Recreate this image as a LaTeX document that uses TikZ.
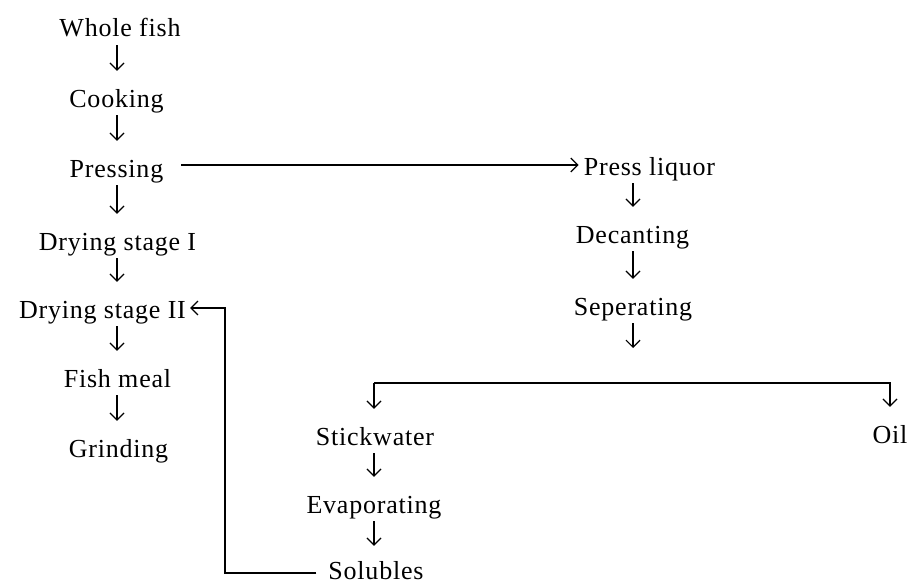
\documentclass[tikz,border=0pt]{standalone}
\usepackage{fontspec}
\setmainfont{Liberation Serif}[LetterSpace=3]
\usetikzlibrary{arrows.meta}
\begin{document}
\begin{tikzpicture}[x=1pt,y=-1pt,
  lbl/.style={anchor=base, inner sep=0pt, text height=18pt, text depth=6pt,
    font=\fontsize{26}{30}\selectfont},
  conn/.style={line width=1.2pt},
  arr/.style={conn, -{Straight Barb[length=7pt,width=14pt,line width=1.2pt]}},
  downarr/.style={arr, shorten <=2pt, shorten >=18pt}]
\useasboundingbox (0,0) rectangle (909,583);
\fill[white] (0,0) rectangle (909,583);
% column coordinates
\coordinate (L) at (117,0);
\coordinate (R) at (633,0);
\coordinate (S) at (374,0);
% left column
\node[lbl] (whole) at (120,37) {Whole fish};
\node[lbl] (cook)  at (116.5,107) {Cooking};
\node[lbl] (press) at (116.5,177) {Pressing};
\node[lbl] (dry1)  at (117.5,250) {Drying stage I};
\node[lbl] (dry2)  at (102.5,318) {Drying stage II};
\node[lbl] (meal)  at (117.5,387) {Fish meal};
\node[lbl] (grind) at (118.5,457) {Grinding};
% right column
\node[lbl] (liq)   at (649.5,175) {Press liquor};
\node[lbl] (dec)   at (632.5,243) {Decanting};
\node[lbl] (sep)   at (633,315) {Seperating};
\coordinate (sepend) at (633,348);
% bottom branch
\node[lbl] (stick) at (375,445) {Stickwater};
\node[lbl] (evap)  at (374,513) {Evaporating};
\node[lbl, text depth=0pt] (sol) at (376,579) {Solubles};
\node[lbl] (oil)   at (890,443) {Oil};
\coordinate (brL) at (374,383);
\coordinate (brR) at (890,383);
\coordinate (fb)  at (225,308);
% left arrows
\draw[downarr] (whole.south -| L) -- (cook.north -| L);
\draw[downarr] (cook.south -| L) -- (press.north -| L);
\draw[downarr] (press.south -| L) -- (dry1.north -| L);
\draw[downarr] (dry1.south -| L) -- (dry2.north -| L);
\draw[downarr] (dry2.south -| L) -- (meal.north -| L);
\draw[downarr] (meal.south -| L) -- (grind.north -| L);
% pressing to press liquor
\draw[arr, shorten <=18pt, shorten >=5pt] ([yshift=6pt]press.east) -- ([yshift=6pt]press.east -| liq.west);
% right arrows
\draw[downarr] (liq.south -| R) -- (dec.north -| R);
\draw[downarr] (dec.south -| R) -- (sep.north -| R);
\draw[arr, shorten <=2pt] (sep.south -| R) -- (sepend);
% branch
\draw[arr, shorten >=18pt] (brL) -- (brR) -- (oil.north);
\draw[arr, shorten >=18pt] (brL) -- (stick.north -| brL);
\draw[downarr] (stick.south -| S) -- (evap.north -| S);
\draw[arr, shorten <=2pt, shorten >=15pt] (evap.south -| S) -- (sol.north -| S);
% feedback
\draw[arr, shorten <=12pt, shorten >=4pt] ([yshift=-3pt]sol.west) -| (fb) -- (dry2.east |- fb);
\end{tikzpicture}
\end{document}
